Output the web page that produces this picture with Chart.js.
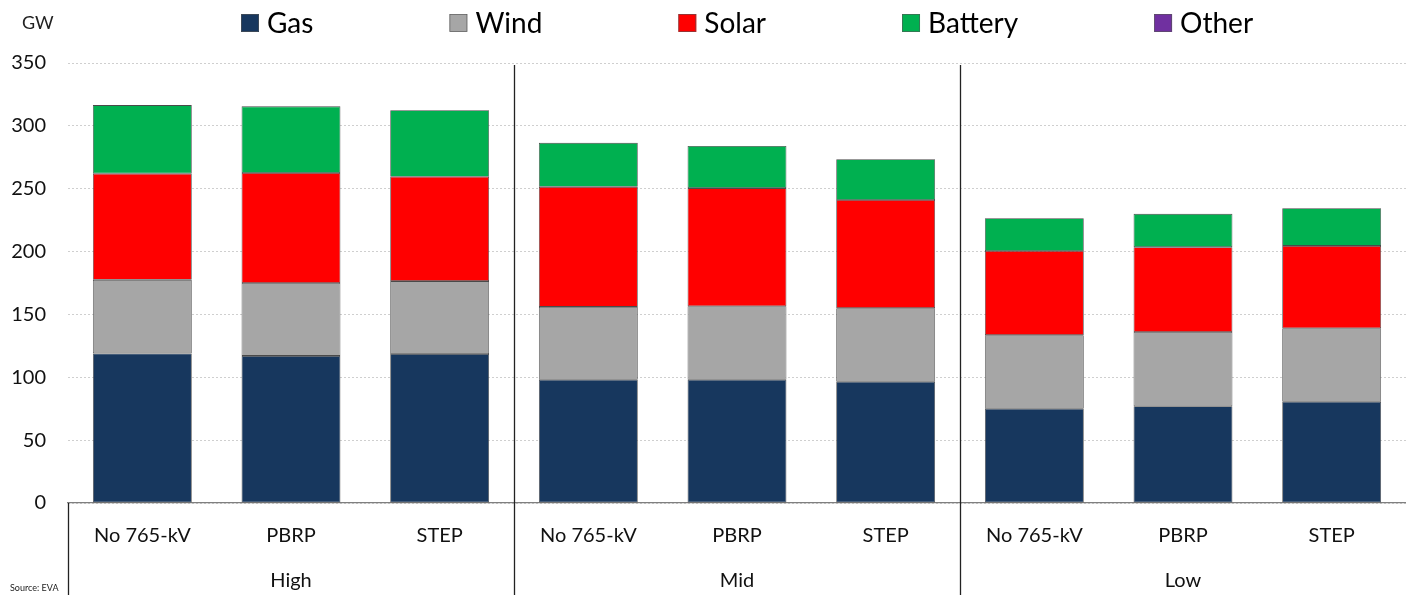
<!DOCTYPE html>
<html>
<head>
<meta charset="utf-8">
<script src="https://cdn.jsdelivr.net/npm/chart.js@4"></script>
<style>
  html, body { margin: 0; padding: 0; background: #fff; }
  #wrap { width: 1406px; height: 595px; }
</style>
</head>
<body>
<div id="wrap"><canvas id="capacityChart" width="1406" height="595"></canvas></div>
<script>
const groups = ['High', 'Mid', 'Low'];
const scenarios = ['No 765-kV', 'PBRP', 'STEP'];
const seriesNames = ['Gas', 'Wind', 'Solar', 'Battery', 'Other'];
const seriesColors = ['#17375E', '#A6A6A6', '#FF0000', '#00B050', '#7030A0'];

// GW by resource, stacked per scenario (High, Mid, Low x 3 cases)
const gas     = [119, 117, 118.5, 98, 98, 96.5, 75, 77, 80.5];
const wind    = [58.5, 58, 58, 58, 58.5, 58.5, 58.5, 59, 58.5];
const solar   = [84.5, 87.5, 83, 95.5, 94, 86, 67, 67.5, 65.5];
const battery = [54.5, 53, 53, 35, 33.5, 32.5, 26, 26.5, 30];
const other   = [0, 0, 0, 0, 0, 0, 0, 0, 0];

const yTicks = [0, 50, 100, 150, 200, 250, 300, 350];

const fontFamily = 'Lato, "Open Sans", sans-serif';

const labels = [];
groups.forEach(g => scenarios.forEach(s => labels.push(s)));

const seriesValues = [gas, wind, solar, battery, other];

// legend across the top, drawn by hand to get the even text gaps
const topLegend = {
    id: 'topLegend',
    afterDraw(chart) {
        const c = chart.ctx;
        c.save();
        c.font = '28px ' + fontFamily;
        c.textBaseline = 'middle';
        let x = 241;
        const y = 23;
        seriesNames.forEach((name, i) => {
            c.fillStyle = seriesColors[i];
            c.fillRect(x, y - 9, 18, 18);
            c.strokeStyle = '#555';
            c.lineWidth = 0.6;
            c.strokeRect(x + 0.5, y - 8.5, 17, 17);
            c.fillStyle = '#000';
            c.fillText(name, x + 26, y + 1);
            x += 26 + c.measureText(name).width + 136;
        });
        // unit label
        c.font = '18px ' + fontFamily;
        c.fillStyle = '#222';
        c.fillText('GW', 22, 23);
        c.font = '9px ' + fontFamily;
        c.fillText('Source: EVA', 10, 588);
        c.restore();
    }
};

// group separators and group labels under the x axis
const groupAxis = {
    id: 'groupAxis',
    afterDraw(chart) {
        const c = chart.ctx;
        const xs = chart.scales.x;
        const area = chart.chartArea;
        const h = chart.height;
        c.save();
        c.strokeStyle = '#222';
        c.lineWidth = 1.3;
        c.beginPath();
        c.moveTo(area.left + 0.5, area.bottom);
        c.lineTo(area.left + 0.5, h);
        for (let g = 1; g < groups.length; g++) {
            const i = g * scenarios.length;
            const sx = Math.round((xs.getPixelForValue(i - 1) + xs.getPixelForValue(i)) / 2) + 0.5;
            c.moveTo(sx, area.top + 2);
            c.lineTo(sx, h);
        }
        c.stroke();
        c.font = '20px ' + fontFamily;
        c.fillStyle = '#111';
        c.textAlign = 'center';
        c.textBaseline = 'middle';
        groups.forEach((g, k) => {
            const mid = xs.getPixelForValue(k * scenarios.length + 1);
            c.fillText(g, mid, 581);
        });
        c.restore();
    }
};

const ctx = document.getElementById('capacityChart').getContext('2d');
const capacityChart = new Chart(ctx, {
    type: 'bar',
    data: {
        labels: labels,
        datasets: seriesNames.map((name, i) => ({
            label: name,
            data: seriesValues[i],
            backgroundColor: seriesColors[i],
            borderColor: '#4a4a4a',
            borderWidth: name === 'Other' ? 0 : 0.8,
            borderSkipped: false,
            categoryPercentage: 1,
            barPercentage: 0.665
        }))
    },
    options: {
        responsive: false,
        animation: false,
        layout: {
            padding: { top: 63, right: 0, left: 0, bottom: 0 }
        },
        plugins: {
            legend: { display: false },
            tooltip: { enabled: false }
        },
        scales: {
            x: {
                stacked: true,
                grid: { display: false, drawTicks: false },
                border: { display: true, color: '#7f7f7f', width: 1.2 },
                ticks: {
                    color: '#111',
                    font: { family: fontFamily, size: 20 },
                    padding: 21,
                    maxRotation: 0
                },
                afterFit(scale) { scale.height = 92; }
            },
            y: {
                stacked: true,
                min: 0,
                max: 350,
                afterBuildTicks(scale) {
                    scale.ticks = yTicks.map(v => ({ value: v }));
                },
                grid: {
                    color: '#cfcfcf',
                    drawTicks: false
                },
                border: { display: false, dash: [2, 2] },
                ticks: {
                    color: '#111',
                    font: { family: fontFamily, size: 20 },
                    padding: 22
                },
                afterFit(scale) { scale.width = 68; }
            }
        }
    },
    plugins: [topLegend, groupAxis]
});
</script>
</body>
</html>
